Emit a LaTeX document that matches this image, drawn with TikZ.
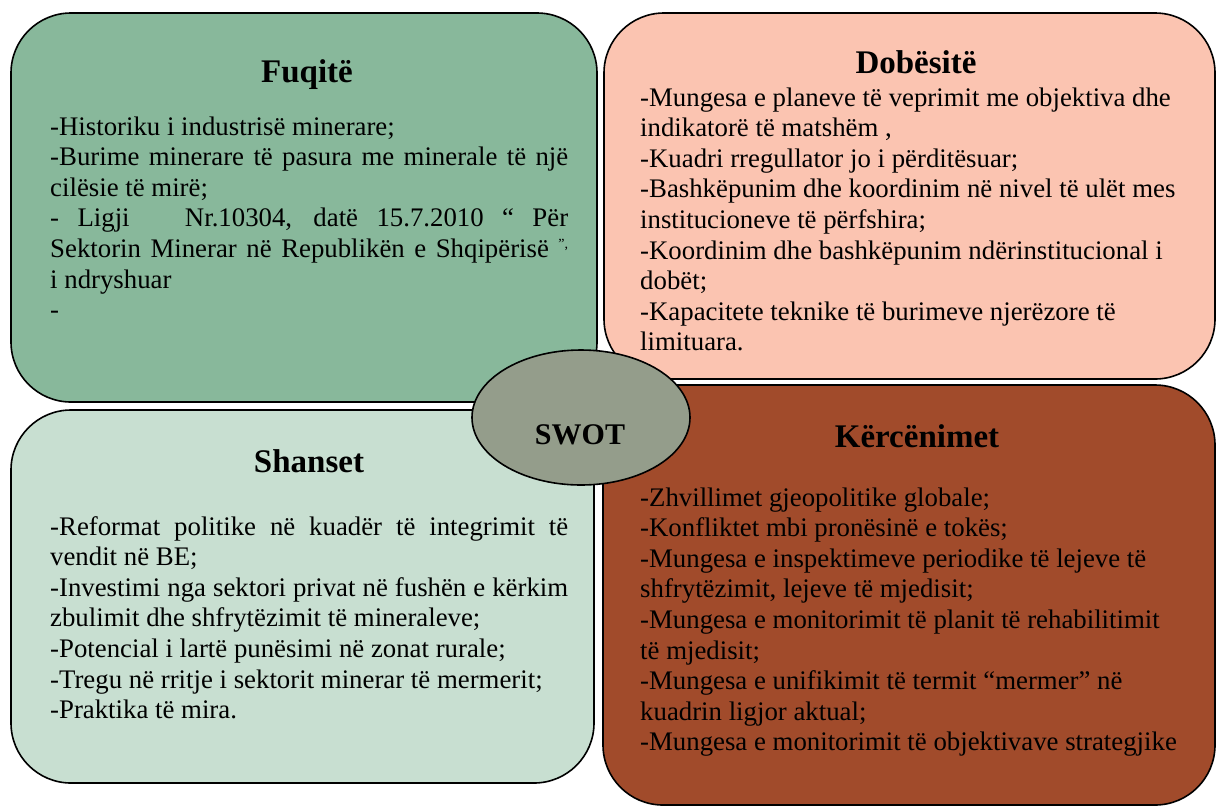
\documentclass[tikz,border=0pt]{standalone}
\usepackage{fontspec}
\setmainfont{Liberation Serif}
\usetikzlibrary{shapes.geometric}
\definecolor{cFuq}{RGB}{136,184,155}
\definecolor{cDob}{RGB}{251,196,177}
\definecolor{cSha}{RGB}{200,223,209}
\definecolor{cKer}{RGB}{161,75,43}
\definecolor{cSwot}{RGB}{148,157,139}
\newcommand{\jl}[1]{\makebox[\linewidth][s]{#1}}
\newcommand{\bodyfont}{\fontsize{26.8pt}{30.6pt}\selectfont}
\newcommand{\titlefont}{\fontsize{33pt}{36pt}\selectfont\bfseries}
\begin{document}
\begin{tikzpicture}[x=1pt,y=-1pt,
  box/.style={draw=black, line width=1.6pt, rounded corners=60pt, inner sep=0pt, rectangle},
  title/.style={anchor=base, inner sep=0pt, font=\titlefont},
  body/.style={anchor=base west, inner sep=0pt}]
\useasboundingbox (0,0) rectangle (1216,807);
% boxes
\node[box, fill=cFuq, minimum width=586pt, minimum height=389pt] (fuq) at (304,207.5) {};
\node[box, fill=cDob, minimum width=611pt, minimum height=366pt] (dob) at (909.5,196) {};
\node[box, fill=cSha, minimum width=583pt, minimum height=373pt] (sha) at (302.5,596.5) {};
\node[box, fill=cKer, minimum width=612pt, minimum height=420pt] (ker) at (909,595) {};
\node[draw=black, line width=1.6pt, ellipse, fill=cSwot, minimum width=218pt, minimum height=135pt, inner sep=0pt] (swot) at (581,417.5) {};
\node[anchor=base, inner sep=0pt, font=\fontsize{30pt}{33pt}\selectfont\bfseries] (swotl) at (580,444) {SWOT};
% titles
\node[title] (fuqt) at (307,82) {Fuqitë};
\node[title] (dobt) at (916,73) {Dobësitë};
\node[title] (shat) at (309,472) {Shanset};
\node[title] (kert) at (917,447) {Kërcënimet};
% bodies
\node[body] (fuqb) at (50,135) {\parbox[t]{518pt}{\bodyfont\parindent0pt
-Historiku i industrisë minerare;\\
\jl{-Burime minerare të pasura me minerale të një}\\
cilësie të mirë;\\
\jl{- Ligji\ \ \ Nr.10304, datë 15.7.2010 “ Për}\\
\jl{Sektorin Minerar në Republikën e Shqipërisë {\fontsize{14pt}{14pt}\selectfont\raisebox{9pt}{”,}}}\\
i ndryshuar\\
-}};
\node[body] (dobb) at (640,106) {\parbox[t]{570pt}{\bodyfont\parindent0pt\raggedright
-Mungesa e planeve të veprimit me objektiva dhe\\
indikatorë të matshëm ,\\
-Kuadri rregullator jo i përditësuar;\\
-Bashkëpunim dhe koordinim në nivel të ulët mes\\
institucioneve të përfshira;\\
-Koordinim dhe bashkëpunim ndërinstitucional i\\
dobët;\\
-Kapacitete teknike të burimeve njerëzore të\\
limituara.}};
\node[body] (shab) at (50,535) {\parbox[t]{518pt}{\bodyfont\parindent0pt
\jl{-Reformat politike në kuadër të integrimit të}\\
vendit në BE;\\
\jl{-Investimi nga sektori privat në fushën e kërkim}\\
zbulimit dhe shfrytëzimit të mineraleve;\\
-Potencial i lartë punësimi në zonat rurale;\\
-Tregu në rritje i sektorit minerar të mermerit;\\
-Praktika të mira.}};
\node[body] (kerb) at (640,506) {\parbox[t]{570pt}{\bodyfont\parindent0pt\raggedright
-Zhvillimet gjeopolitike globale;\\
-Konfliktet mbi pronësinë e tokës;\\
-Mungesa e inspektimeve periodike të lejeve të\\
shfrytëzimit, lejeve të mjedisit;\\
-Mungesa e monitorimit të planit të rehabilitimit\\
të mjedisit;\\
-Mungesa e unifikimit të termit “mermer” në\\
kuadrin ligjor aktual;\\
-Mungesa e monitorimit të objektivave strategjike}};
\end{tikzpicture}
\end{document}
